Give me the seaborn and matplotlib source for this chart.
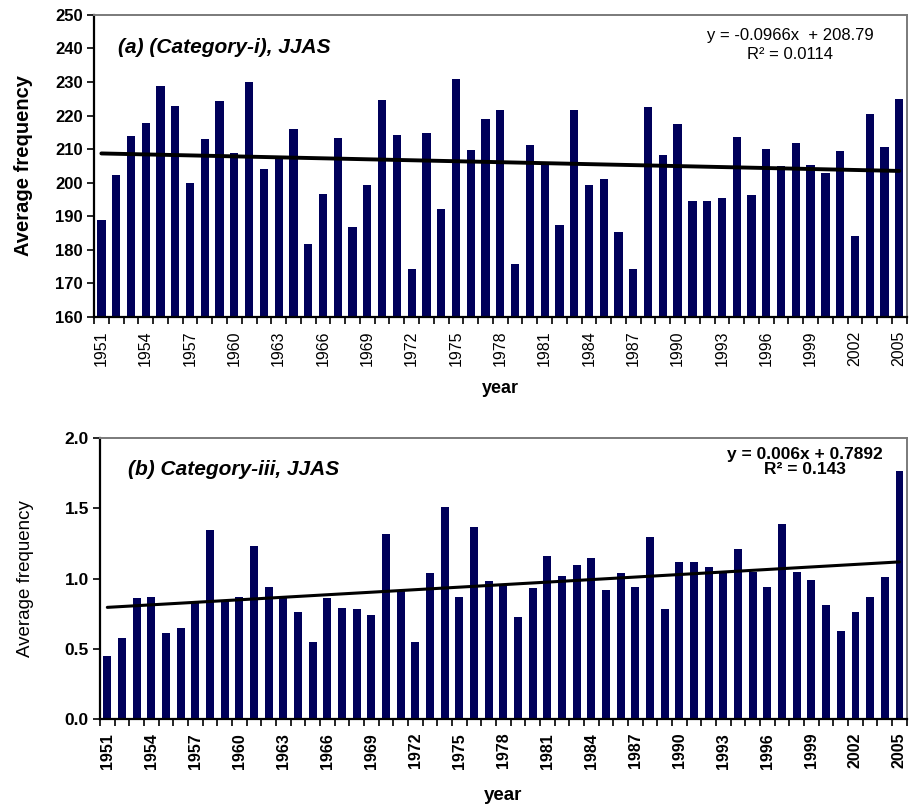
import numpy as np
import pandas as pd
import matplotlib
matplotlib.use("Agg")
import matplotlib.pyplot as plt
import seaborn as sns

years = list(range(1951, 2006))

# JJAS average frequency, Category-i
cat_i = [188.8, 202.2, 213.8, 217.9, 228.7, 222.7, 200.0, 212.9, 224.3, 208.8,
         230.0, 204.0, 207.0, 216.0, 181.7, 196.7, 213.2, 186.9, 199.2, 224.7,
         214.1, 174.2, 214.7, 192.2, 231.0, 209.7, 219.1, 221.5, 175.7, 211.3,
         205.7, 187.5, 221.5, 199.2, 201.0, 185.4, 174.1, 222.4, 208.1, 217.5,
         194.4, 194.4, 195.4, 213.5, 196.4, 210.0, 205.0, 211.8, 205.3, 202.8,
         209.4, 184.2, 220.5, 210.7, 224.9]

# JJAS average frequency, Category-iii
cat_iii = [0.45, 0.58, 0.86, 0.87, 0.61, 0.65, 0.83, 1.35, 0.84, 0.87,
           1.23, 0.94, 0.86, 0.76, 0.55, 0.86, 0.79, 0.78, 0.74, 1.32,
           0.92, 0.55, 1.04, 1.51, 0.87, 1.37, 0.98, 0.96, 0.73, 0.93,
           1.16, 1.02, 1.10, 1.15, 0.92, 1.04, 0.94, 1.30, 0.78, 1.12,
           1.12, 1.08, 1.05, 1.21, 1.05, 0.94, 1.39, 1.05, 0.99, 0.81,
           0.63, 0.76, 0.87, 1.01, 1.77]

# linear trend coefficients (x = 1 .. 55)
trend_a = {"slope": -0.0966, "intercept": 208.79, "r2": 0.0114}
trend_b = {"slope": 0.006, "intercept": 0.7892, "r2": 0.143}

yticks_a = [160, 170, 180, 190, 200, 210, 220, 230, 240, 250]
yticks_b = [0.0, 0.5, 1.0, 1.5, 2.0]

sns.set_style("ticks")
plt.rcParams["font.family"] = ["Liberation Sans", "DejaVu Sans"]
plt.rcParams.update({"text.color": "black", "axes.labelcolor": "black",
                     "xtick.color": "black", "ytick.color": "black"})

BAR = "#00005a"
df = pd.DataFrame({"year": [str(y) for y in years], "a": cat_i, "b": cat_iii})

fig = plt.figure(figsize=(9.09, 8.06), dpi=100)
ax1 = fig.add_axes([0.1034, 0.607, 0.894, 0.3745])
ax2 = fig.add_axes([0.110, 0.108, 0.8875, 0.3482])


def style_axes(ax, ylim, yticks, yfmt, tick_bold, tick_size, ytick_size):
    ax.set_xlim(-0.5, len(years) - 0.5)
    ax.set_ylim(*ylim)
    ax.set_yticks(yticks)
    ax.set_yticklabels([yfmt.format(v) for v in yticks],
                       fontsize=ytick_size, fontweight="bold")
    pos = list(range(0, len(years), 3))
    ax.set_xticks(pos)
    ax.set_xticklabels([str(years[p]) for p in pos], rotation=90,
                       fontsize=tick_size,
                       fontweight="bold" if tick_bold else "normal")
    ax.set_xticks(np.arange(-0.5, len(years), 1.0), minor=True)
    ax.tick_params(axis="x", which="major", length=0, pad=10)
    ax.tick_params(axis="x", which="minor", length=5, width=1.2,
                   direction="out", color="black")
    ax.tick_params(axis="y", length=5, width=1.2, direction="out",
                   color="black", pad=3)
    for side in ("left", "bottom"):
        ax.spines[side].set_color("black")
        ax.spines[side].set_linewidth(1.6)
    for side in ("top", "right"):
        ax.spines[side].set_visible(True)
        ax.spines[side].set_color("#7a7a7a")
        ax.spines[side].set_linewidth(1.4)


# ---- panel (a) ----
sns.barplot(data=df, x="year", y="a", color=BAR, saturation=1, width=0.56,
            linewidth=0, ax=ax1)
xs = np.arange(len(years))
ax1.plot(xs, trend_a["slope"] * (xs + 1) + trend_a["intercept"],
         color="black", lw=2.8, zorder=5)
style_axes(ax1, (160, 250), yticks_a, "{:.0f}", False, 11.5, 12)
ax1.set_ylabel("Average frequency", fontsize=14.5, fontweight="bold", labelpad=16)
ax1.set_xlabel("year", fontsize=13, fontweight="bold", labelpad=10)
ax1.text(0.030, 0.875, "(a) (Category-i), JJAS", transform=ax1.transAxes,
         fontsize=15, fontweight="bold", fontstyle="italic")
ax1.text(0.857, 0.900,
         f"y = {trend_a['slope']}x  + {trend_a['intercept']}\nR² = {trend_a['r2']}",
         transform=ax1.transAxes, ha="center", va="center", fontsize=12,
         linespacing=1.3)

# ---- panel (b) ----
sns.barplot(data=df, x="year", y="b", color=BAR, saturation=1, width=0.53,
            linewidth=0, ax=ax2)
ax2.plot(xs, trend_b["slope"] * (xs + 1) + trend_b["intercept"],
         color="black", lw=2.2, zorder=5)
style_axes(ax2, (0, 2.0), yticks_b, "{:.1f}", True, 11.5, 12.5)
ax2.set_ylabel("Average frequency", fontsize=13.5, labelpad=22)
ax2.set_xlabel("year", fontsize=13.5, fontweight="bold", labelpad=13)
ax2.text(0.035, 0.870, "(b) Category-iii, JJAS", transform=ax2.transAxes,
         fontsize=15, fontweight="bold", fontstyle="italic")
ax2.text(0.874, 0.915,
         f"y = {trend_b['slope']}x + {trend_b['intercept']}\nR² = {trend_b['r2']}",
         transform=ax2.transAxes, ha="center", va="center", fontsize=12.5,
         fontweight="bold", linespacing=1.0)

fig.savefig("out.png", dpi=100)
